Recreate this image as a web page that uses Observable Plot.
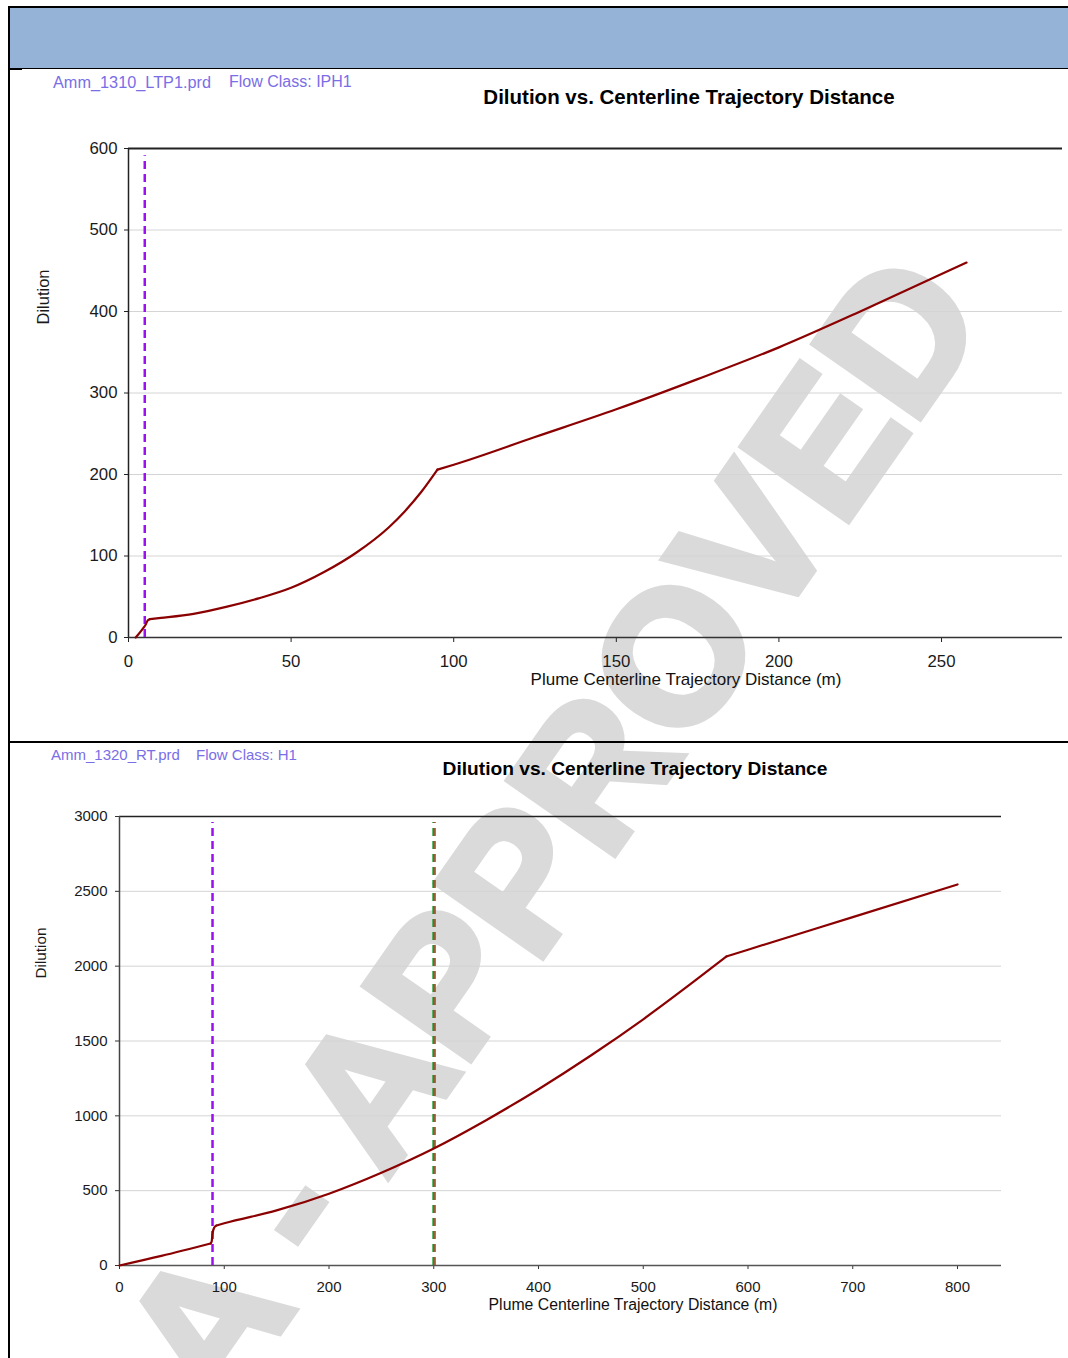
<!DOCTYPE html>
<html><head><meta charset="utf-8">
<script src="https://cdn.jsdelivr.net/npm/d3@7"></script>
<script src="https://cdn.jsdelivr.net/npm/@observablehq/plot@0.6"></script>
<style>
html,body{margin:0;padding:0;background:#fff;}
body{width:1068px;height:1358px;position:relative;overflow:hidden;font-family:"Liberation Sans",Arial,sans-serif;}
.abs{position:absolute;white-space:nowrap;line-height:1;}
.c{transform:translateX(-50%);}
.sub{color:#7a6ee6;}
.ylab{transform:translate(-50%,-50%) rotate(-90deg);color:#1a1a1a;z-index:3;}
#wm{left:552px;top:830px;transform:translate(-50%,-50%) rotate(-55deg);font-weight:bold;font-size:188px;color:#dadada;-webkit-text-stroke:7px #dadada;z-index:1;}
.chart{position:absolute;left:0;z-index:2;}
.blk{position:absolute;background:#000;z-index:3;}
</style></head><body>
<div id="wm" class="abs">A - APPROVED</div>
<div class="blk" style="left:8px;top:6px;width:1060px;height:2px"></div>
<div style="position:absolute;left:10px;top:8px;width:1058px;height:60px;background:#95b3d7"></div>
<div class="blk" style="left:8px;top:68px;width:1060px;height:1px"></div>
<div class="blk" style="left:8px;top:68px;width:14px;height:2px"></div>
<div class="blk" style="left:8px;top:6px;width:2px;height:1352px"></div>
<div class="blk" style="left:8px;top:741px;width:1060px;height:2px"></div>

<div class="abs sub" style="left:53px;top:74px;font-size:16.3px">Amm_1310_LTP1.prd</div>
<div class="abs sub" style="left:229px;top:74px;font-size:16px">Flow Class: IPH1</div>
<div class="abs c" style="left:689px;top:87px;font-size:20.5px;font-weight:bold;color:#000;z-index:3">Dilution vs. Centerline Trajectory Distance</div>
<div class="abs c" style="left:686px;top:671px;font-size:17px;color:#111;z-index:3">Plume Centerline Trajectory Distance (m)</div>
<div class="abs ylab" style="left:43px;top:297px;font-size:16.5px">Dilution</div>

<div class="abs sub" style="left:51px;top:747px;font-size:15px">Amm_1320_RT.prd</div>
<div class="abs sub" style="left:196px;top:747px;font-size:15px">Flow Class: H1</div>
<div class="abs c" style="left:635px;top:759px;font-size:19.2px;font-weight:bold;color:#000;z-index:3">Dilution vs. Centerline Trajectory Distance</div>
<div class="abs c" style="left:633px;top:1297px;font-size:15.8px;color:#111;z-index:3">Plume Centerline Trajectory Distance (m)</div>
<div class="abs ylab" style="left:41px;top:953px;font-size:15.3px">Dilution</div>

<div id="chart1" class="chart" style="top:120px"></div>
<div id="chart2" class="chart" style="top:790px"></div>

<script>
// ---- Top chart data (Amm_1310_LTP1) ----
const topDistance = [2.2, 4.7, 5.3, 5.9, 6.6, 10, 20, 30, 40, 50, 60, 70, 80, 85, 90, 95, 100, 125, 150, 175, 200, 225, 250, 257.7];
const topDilution = [0, 12.5, 16, 21, 22.5, 24, 29, 37.5, 48, 61, 80, 104, 135, 155, 178.5, 206, 212, 246, 280, 317, 356, 400, 446, 460];
const topKinks = [6.6, 95];           // distances where the curve changes regime
const topXTicks = [0, 50, 100, 150, 200, 250];
const topYTicks = [0, 100, 200, 300, 400, 500, 600];
const topPurpleX = 5.0;

// ---- Bottom chart data (Amm_1320_RT) ----
const botDistance = [0, 40, 86.9, 88.0, 88.8, 90.5, 92.6, 100, 150, 200, 250, 300, 350, 400, 450, 500, 550, 579.5, 600, 700, 800];
const botDilution = [0, 64, 147, 160, 215, 254, 267, 282, 368, 480, 620, 782, 971, 1178, 1403, 1645, 1906, 2065, 2110, 2328, 2546];
const botKinks = [86.9, 92.6, 579.5];
const botXTicks = [0, 100, 200, 300, 400, 500, 600, 700, 800];
const botYTicks = [0, 500, 1000, 1500, 2000, 2500, 3000];
const botPurpleX = 88.8;
const botGreenX = 300;

// split a series into pieces at the kink distances (kink point shared by both pieces)
function pieces(xs, ys, kinks) {
  const out = [];
  let seg = 0;
  xs.forEach((x, i) => {
    out.push({x, y: ys[i], s: seg});
    if (kinks.includes(x)) { seg++; out.push({x, y: ys[i], s: seg}); }
  });
  return out;
}
const topData = pieces(topDistance, topDilution, topKinks);
const botData = pieces(botDistance, botDilution, botKinks);

const font = '"Liberation Sans", Arial, sans-serif';
const fmt = d => String(d);

const chart1 = Plot.plot({
  width: 1068, height: 580,
  marginLeft: 128, marginRight: 6, marginTop: 28, marginBottom: 63,
  style: {background: "transparent", fontFamily: font, fontSize: "16.8px", color: "#1a1a1a", overflow: "visible"},
  x: {domain: [0, 287.2]},
  y: {domain: [0, 600]},
  marks: [
    Plot.gridY(topYTicks.filter(t => t > 0 && t < 600), {stroke: "#d4d4d4", strokeOpacity: 1, strokeWidth: 1}),
    Plot.ruleY([600], {stroke: "#222", strokeWidth: 2}),
    Plot.axisY(topYTicks, {tickSize: 4, tickPadding: 7, fontSize: 16.8, stroke: "#222", tickFormat: fmt, label: null}),
    Plot.axisX(topXTicks, {tickSize: 5, tickPadding: 13, fontSize: 16.8, stroke: "#222", tickFormat: fmt, label: null}),
    Plot.ruleX([0], {stroke: "#222", strokeWidth: 1.5}),
    Plot.ruleY([0], {stroke: "#333", strokeWidth: 1.5}),
    Plot.ruleX([topPurpleX], {y1: 0, y2: 591, stroke: "#9a10ee", strokeWidth: 2.5, strokeDasharray: "8,5"}),
    Plot.line(topData, {x: "x", y: "y", z: "s", stroke: "#8b0000", strokeWidth: 2.2, curve: "monotone-x", strokeLinejoin: "round"})
  ]
});
document.getElementById("chart1").append(chart1);

const chart2 = Plot.plot({
  width: 1068, height: 560,
  marginLeft: 119, marginRight: 67, marginTop: 26, marginBottom: 85,
  style: {background: "transparent", fontFamily: font, fontSize: "15px", color: "#1a1a1a", overflow: "visible"},
  x: {domain: [0, 842]},
  y: {domain: [0, 3000]},
  marks: [
    Plot.gridY(botYTicks.filter(t => t > 0 && t < 3000), {stroke: "#d4d4d4", strokeOpacity: 1, strokeWidth: 1}),
    Plot.ruleY([3000], {stroke: "#222", strokeWidth: 1.5}),
    Plot.axisY(botYTicks, {tickSize: 4, tickPadding: 8, fontSize: 15, stroke: "#333", tickFormat: fmt, label: null}),
    Plot.axisX(botXTicks, {tickSize: 4, tickPadding: 12, fontSize: 15, stroke: "#333", tickFormat: fmt, label: null}),
    Plot.ruleX([0], {stroke: "#444", strokeWidth: 1.5}),
    Plot.ruleY([0], {stroke: "#555", strokeWidth: 1.5}),
    Plot.ruleX([botPurpleX], {y1: 0, y2: 2960, stroke: "#9a10ee", strokeWidth: 2.5, strokeDasharray: "8,5"}),
    Plot.ruleX([botGreenX], {y1: 0, y2: 2960, dx: 1.2, stroke: "#e02020", strokeWidth: 1.6, strokeDasharray: "8,5"}),
    Plot.ruleX([botGreenX], {y1: 0, y2: 2960, dx: -0.4, stroke: "#14962a", strokeWidth: 2, strokeDasharray: "8,5"}),
    Plot.line(botData, {x: "x", y: "y", z: "s", stroke: "#8b0000", strokeWidth: 2.2, curve: "monotone-x", strokeLinejoin: "round"})
  ]
});
document.getElementById("chart2").append(chart2);
</script>
</body></html>
